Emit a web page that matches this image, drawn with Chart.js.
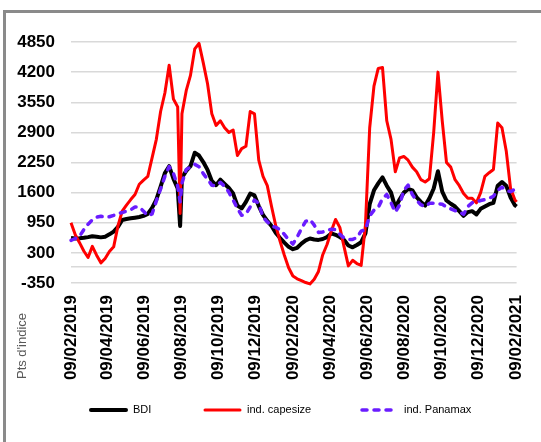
<!DOCTYPE html>
<html>
<head>
<meta charset="utf-8">
<script src="https://cdn.jsdelivr.net/npm/chart.js@4/dist/chart.umd.min.js"></script>
<style>
  html, body { margin: 0; padding: 0; background: #fff; }
  #wrap { width: 541px; height: 442px; position: relative; }
  canvas { display: block; }
</style>
</head>
<body>
<div id="wrap"><canvas id="bdiChart" width="541" height="442"></canvas></div>
<script>
// dates des points (hebdo, + un point pour le creux d'août 2019)
const dates = [
  "2019-02-09", "2019-02-16", "2019-02-23", "2019-03-02", "2019-03-09", "2019-03-16", "2019-03-23", "2019-03-30",
  "2019-04-06", "2019-04-13", "2019-04-20", "2019-04-27", "2019-05-04", "2019-05-11", "2019-05-18", "2019-05-25",
  "2019-06-01", "2019-06-08", "2019-06-15", "2019-06-22", "2019-06-29", "2019-07-06", "2019-07-13", "2019-07-20",
  "2019-07-27", "2019-08-03", "2019-08-07", "2019-08-10", "2019-08-17", "2019-08-24", "2019-08-31", "2019-09-07",
  "2019-09-14", "2019-09-21", "2019-09-28", "2019-10-05", "2019-10-12", "2019-10-19", "2019-10-26", "2019-11-02",
  "2019-11-09", "2019-11-16", "2019-11-23", "2019-11-30", "2019-12-07", "2019-12-14", "2019-12-21", "2019-12-28",
  "2020-01-04", "2020-01-11", "2020-01-18", "2020-01-25", "2020-02-01", "2020-02-08", "2020-02-15", "2020-02-22",
  "2020-02-29", "2020-03-07", "2020-03-14", "2020-03-21", "2020-03-28", "2020-04-04", "2020-04-11", "2020-04-18",
  "2020-04-25", "2020-05-02", "2020-05-09", "2020-05-16", "2020-05-23", "2020-05-30", "2020-06-06", "2020-06-13",
  "2020-06-20", "2020-06-27", "2020-07-04", "2020-07-11", "2020-07-18", "2020-07-25", "2020-08-01", "2020-08-08",
  "2020-08-15", "2020-08-22", "2020-08-29", "2020-09-05", "2020-09-12", "2020-09-19", "2020-09-26", "2020-10-03",
  "2020-10-10", "2020-10-17", "2020-10-24", "2020-10-31", "2020-11-07", "2020-11-14", "2020-11-21", "2020-11-28",
  "2020-12-05", "2020-12-12", "2020-12-19", "2020-12-26", "2021-01-02", "2021-01-09", "2021-01-16", "2021-01-23",
  "2021-01-30", "2021-02-06", "2021-02-09"
];

const bdi = [
  620, 610, 615, 625, 640, 660, 650, 635, 650, 700, 760, 860, 1010, 1030, 1045, 1060,
  1075, 1100, 1140, 1270, 1450, 1730, 2020, 2170, 1900, 1690, 880, 1920, 2070, 2170, 2460, 2400,
  2260, 2090, 1850, 1760, 1880, 1790, 1700, 1580, 1320, 1260, 1400, 1580, 1540, 1310, 1120, 990,
  880, 730, 620, 520, 430, 380, 410, 500, 570, 610, 590, 580, 600, 640, 720, 690,
  640, 580, 460, 420, 470, 530, 720, 1350, 1650, 1800, 1930, 1750, 1600, 1280, 1450, 1600,
  1680, 1650, 1500, 1400, 1320, 1480, 1690, 2060, 1620, 1430, 1360, 1300, 1200, 1100, 1180, 1200,
  1130, 1250, 1300, 1350, 1380, 1750, 1830, 1750, 1500, 1330, 1300
];

const capesize = [
  950, 690, 520, 340, 200, 440, 250, 85, 180, 330, 430, 880, 1200, 1330, 1450, 1560,
  1780, 1870, 1950, 2350, 2750, 3350, 3750, 4350, 3620, 3450, 1150, 3300, 3800, 4130, 4700, 4820,
  4400, 3950, 3300, 3050, 3150, 3000, 2900, 2950, 2400, 2550, 2600, 3350, 3300, 2300, 1950, 1750,
  1300, 880, 550, 250, -20, -200, -260, -300, -340, -370, -270, -100, 260, 480, 770, 1020,
  850, 430, 20, 140, 70, 30, 900, 3000, 3900, 4280, 4300, 3150, 2750, 2050, 2350, 2380,
  2300, 2150, 2050, 1880, 1830, 1900, 2900, 4200, 3150, 2250, 2150, 1880, 1750, 1580, 1480, 1480,
  1380, 1600, 1950, 2030, 2100, 3100, 3000, 2500, 1700, 1450, 1400
];

const panamax = [
  570, 610, 660, 800, 920, 1010, 1070, 1090, 1070, 1080, 1110, 1150, 1170, 1200, 1230, 1290,
  1290, 1200, 1100, 1140, 1420, 1680, 1950, 2160, 2020, 1740, 1400, 1800, 2100, 2150, 2210, 2160,
  2010, 1890, 1760, 1750, 1820, 1740, 1610, 1440, 1260, 1110, 1140, 1290, 1440, 1370, 1070, 970,
  880, 850, 800, 700, 580, 490, 640, 820, 980, 1020, 900, 740, 750, 790, 810, 800,
  700, 620, 590, 590, 630, 770, 800, 1100, 1220, 1280, 1470, 1560, 1380, 1180, 1330, 1650,
  1760, 1560, 1430, 1340, 1300, 1370, 1370, 1360, 1350, 1290, 1250, 1210, 1190, 1130, 1300, 1380,
  1400, 1430, 1450, 1480, 1520, 1650, 1720, 1650, 1620, 1670, 1700
];

const xTickLabels = [
  "09/02/2019", "09/04/2019", "09/06/2019", "09/08/2019", "09/10/2019", "09/12/2019", "09/02/2020",
  "09/04/2020", "09/06/2020", "09/08/2020", "09/10/2020", "09/12/2020", "09/02/2021"
];
const yTicks = [-350, 0, 300, 950, 1600, 2250, 2900, 3550, 4200, 4850];

const DAY = 86400000;
const t0 = Date.parse(dates[0]);
const dayOf = (iso) => Math.round((Date.parse(iso) - t0) / DAY);
const tickDays = xTickLabels.map((s) => {
  const [d, m, y] = s.split("/").map(Number);
  return Math.round((Date.UTC(y, m - 1, d) - t0) / DAY);
});

const toPoints = (values) => values.map((v, i) => ({ x: dayOf(dates[i]), y: v }));

// position des entrées de légende (x de début du trait), comme dans l'original
const legendX = [89, 203, 360];
const legendY = 410;

// cadre gris, titre de l'axe vertical et légende
const framePlugin = {
  id: "frame",
  beforeDraw(chart) {
    const ctx = chart.ctx;
    ctx.save();
    ctx.fillStyle = "#fff";
    ctx.fillRect(0, 0, chart.width, chart.height);
    ctx.strokeStyle = "#8a8a8a";
    ctx.lineWidth = 3;
    ctx.beginPath();
    ctx.moveTo(4.5, chart.height + 5);
    ctx.lineTo(4.5, 11.5);
    ctx.lineTo(chart.width + 5, 11.5);
    ctx.stroke();
    ctx.restore();
  },
  afterDraw(chart) {
    const ctx = chart.ctx;
    ctx.save();
    ctx.translate(22.5, 346);
    ctx.rotate(-Math.PI / 2);
    ctx.font = "13px 'Liberation Sans', Arial, sans-serif";
    ctx.fillStyle = "#595959";
    ctx.textAlign = "center";
    ctx.textBaseline = "middle";
    ctx.fillText("Pts d'indice", 0, 0);
    ctx.restore();

    // légende
    chart.data.datasets.forEach((ds, i) => {
      const x = legendX[i];
      ctx.save();
      ctx.strokeStyle = ds.borderColor;
      ctx.lineWidth = ds.borderWidth;
      ctx.lineCap = "round";
      ctx.setLineDash(ds.borderDash || []);
      ctx.beginPath();
      ctx.moveTo(x + 2, legendY);
      ctx.lineTo(x + 37, legendY);
      ctx.stroke();
      ctx.setLineDash([]);
      ctx.font = "11px 'Liberation Sans', Arial, sans-serif";
      ctx.fillStyle = "#000";
      ctx.textAlign = "left";
      ctx.textBaseline = "middle";
      ctx.fillText(ds.label, x + 44, legendY);
      ctx.restore();
    });
  },
};

Chart.defaults.font.family = "'Liberation Sans', Arial, sans-serif";
Chart.defaults.color = "#000";

new Chart(document.getElementById("bdiChart"), {
  type: "line",
  data: {
    datasets: [
      {
        label: "BDI",
        data: toPoints(bdi),
        borderColor: "#000000",
        backgroundColor: "#000000",
        borderWidth: 4,
        order: 2,
      },
      {
        label: "ind. capesize",
        data: toPoints(capesize),
        borderColor: "#ff0000",
        backgroundColor: "#ff0000",
        borderWidth: 3,
        order: 1,
      },
      {
        label: "ind. Panamax",
        data: toPoints(panamax),
        borderColor: "#6a1cff",
        backgroundColor: "#6a1cff",
        borderWidth: 3.5,
        borderDash: [5, 7],
        borderCapStyle: "round",
        order: 0,
      },
    ],
  },
  options: {
    responsive: false,
    animation: false,
    devicePixelRatio: 1,
    layout: { padding: { left: 8, right: 20, top: 42, bottom: 0 } },
    elements: {
      point: { radius: 0 },
      line: { tension: 0, borderJoinStyle: "round", fill: false },
    },
    datasets: { line: { clip: 8 } },
    scales: {
      x: {
        type: "linear",
        min: 0,
        max: tickDays[tickDays.length - 1],
        afterBuildTicks: (axis) => {
          axis.ticks = tickDays.map((d) => ({ value: d }));
        },
        afterFit: (axis) => {
          axis.height = 159;
        },
        ticks: {
          autoSkip: false,
          minRotation: 90,
          maxRotation: 90,
          padding: 4,
          font: { size: 17, weight: "bold" },
          callback: (v) => xTickLabels[tickDays.indexOf(v)] || "",
        },
        grid: { display: false },
        border: { display: false },
      },
      y: {
        min: -350,
        max: 4850,
        afterBuildTicks: (axis) => {
          axis.ticks = yTicks.map((v) => ({ value: v }));
        },
        afterFit: (axis) => {
          axis.width = 63;
        },
        ticks: {
          autoSkip: false,
          padding: 16,
          font: { size: 17, weight: "bold" },
          callback: (v) => (v === 0 ? "" : String(v)),
        },
        grid: { color: "#d9d9d9", lineWidth: 1.5, drawTicks: false },
        border: { display: false },
      },
    },
    plugins: {
      tooltip: { enabled: false },
      legend: { display: false },
    },
  },
  plugins: [framePlugin],
});
</script>
</body>
</html>
